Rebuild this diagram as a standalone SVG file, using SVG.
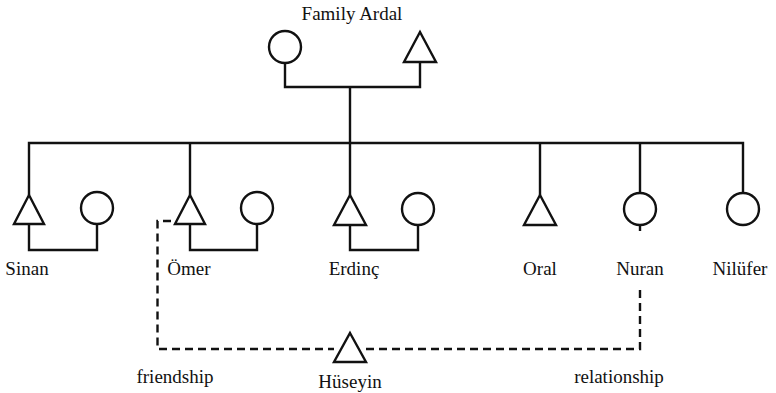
<svg xmlns="http://www.w3.org/2000/svg" width="776" height="393" viewBox="0 0 776 393">
<style>
.s{fill:none;stroke:#111;stroke-width:2.4}
.n{fill:#fff;stroke:#111;stroke-width:2.4}
.d{fill:none;stroke:#111;stroke-width:2.4;stroke-dasharray:8,5}
text{font-family:"Liberation Serif","DejaVu Serif",serif;font-size:19px;fill:#111;text-anchor:middle}
</style>
<rect width="776" height="393" fill="#fff"/>
<g id="connectors">
<path class="s" d="M285,63 V87 H420 V62"/>
<path class="s" d="M350,87 V143"/>
<path class="s" d="M29,195 V143 H743 V193"/>
<path class="s" d="M190,143 V195"/>
<path class="s" d="M350,143 V195"/>
<path class="s" d="M540,143 V195"/>
<path class="s" d="M640,143 V193"/>
<path class="s" d="M29,224 V250 H97 V224"/>
<path class="s" d="M190,224 V250 H257 V224"/>
<path class="s" d="M350,225 V250 H418 V225"/>
<path class="s" d="M640,225 V231"/>
<path class="d" d="M171,221 H157.5 V349 H334"/>
<path class="d" d="M366,349 H640 V285"/>
</g>
<g id="family-ardal"><text x="352" y="20">Family Ardal</text></g>
<g id="ardal-mother"><circle class="n" cx="285" cy="47" r="16"/></g>
<g id="ardal-father"><path class="n" d="M420,32 L436,62 H404 Z"/></g>
<g id="sinan"><path class="n" d="M29,195 L44,224 H14 Z"/><text x="27" y="275">Sinan</text></g>
<g id="sinan-wife"><circle class="n" cx="97" cy="208" r="16"/></g>
<g id="omer"><path class="n" d="M190,195 L205,224 H175 Z"/><text x="189" y="275">Ömer</text></g>
<g id="omer-wife"><circle class="n" cx="257" cy="208" r="16"/></g>
<g id="erdinc"><path class="n" d="M350,195 L366,225 H334 Z"/><text x="354" y="275">Erdinç</text></g>
<g id="erdinc-wife"><circle class="n" cx="418" cy="209" r="16"/></g>
<g id="oral"><path class="n" d="M540,195 L556,225 H524 Z"/><text x="540" y="275">Oral</text></g>
<g id="nuran"><circle class="n" cx="640" cy="209" r="16"/><text x="640" y="275">Nuran</text></g>
<g id="nilufer"><circle class="n" cx="743" cy="209" r="16"/><text x="740" y="275">Nilüfer</text></g>
<g id="huseyin"><path class="n" d="M350,333 L366,362 H334 Z"/><text x="350" y="388">Hüseyin</text></g>
<g id="labels">
<text x="175" y="383">friendship</text>
<text x="619" y="383">relationship</text>
</g>
</svg>
